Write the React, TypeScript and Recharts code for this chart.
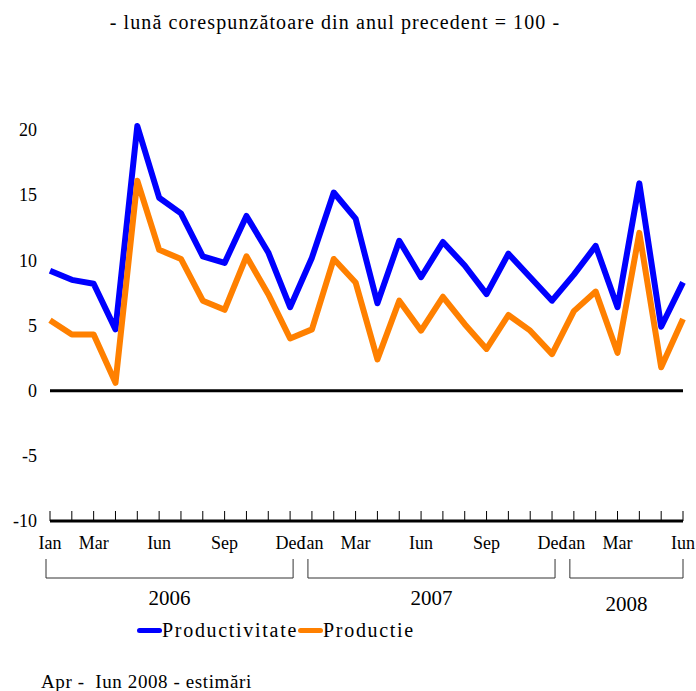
import React from 'react';
import { LineChart, Line, XAxis, YAxis, ReferenceLine, Legend } from 'recharts';

const months = [
  'Ian06', 'Feb06', 'Mar06', 'Apr06', 'Mai06', 'Iun06', 'Iul06', 'Aug06', 'Sep06', 'Oct06', 'Noi06', 'Dec06',
  'Ian07', 'Feb07', 'Mar07', 'Apr07', 'Mai07', 'Iun07', 'Iul07', 'Aug07', 'Sep07', 'Oct07', 'Noi07', 'Dec07',
  'Ian08', 'Feb08', 'Mar08', 'Apr08', 'Mai08', 'Iun08',
];

const tickLabels = [
  'Ian', '', 'Mar', '', '', 'Iun', '', '', 'Sep', '', '', 'Dec',
  'Ian', '', 'Mar', '', '', 'Iun', '', '', 'Sep', '', '', 'Dec',
  'Ian', '', 'Mar', '', '', 'Iun',
];

const productivitate = [
  9.2, 8.5, 8.2, 4.7, 20.3, 14.8, 13.6, 10.3, 9.8, 13.4, 10.6, 6.4,
  10.2, 15.2, 13.2, 6.7, 11.5, 8.7, 11.4, 9.6, 7.4, 10.5, 8.7, 6.9,
  8.9, 11.1, 6.4, 15.9, 4.9, 8.3,
];

const productie = [
  5.4, 4.3, 4.3, 0.6, 16.1, 10.8, 10.1, 6.9, 6.2, 10.3, 7.4, 4.0,
  4.7, 10.1, 8.3, 2.4, 6.9, 4.6, 7.2, 5.1, 3.2, 5.8, 4.6, 2.8,
  6.1, 7.6, 2.9, 12.1, 1.8, 5.5,
];

// year groups: first month index, number of months
const years = [
  { label: '2006', start: 0, count: 12 },
  { label: '2007', start: 12, count: 12 },
  { label: '2008', start: 24, count: 6 },
];

const yTicks = [-10, -5, 0, 5, 10, 15, 20];

const data = months.map((m, i) => ({
  name: m,
  productivitate: productivitate[i],
  productie: productie[i],
}));

const FONT = '"Liberation Serif", "Times New Roman", serif';

const MonthTick = (props: any) => {
  const { x, y, index, width, visibleTicksCount } = props;
  const step = visibleTicksCount > 1 ? width / (visibleTicksCount - 1) : 21.8;
  const year = years.find(g => g.start === index);
  let bracket = null;
  if (year) {
    const isLast = year.start + year.count === months.length;
    const x0 = x - 4;
    const x1 = x + (year.count - 1) * step + (isLast ? 0 : 3);
    const yTop = y + 38;
    const yBot = y + 57;
    bracket = (
      <g>
        <path d={`M${x0},${yTop} L${x0},${yBot} L${x1},${yBot} L${x1},${yTop}`} stroke="#333" strokeWidth={1} fill="none" />
        <text x={(x0 + x1) / 2} y={y + (isLast ? 90 : 84)} textAnchor="middle" fontSize={21} fontFamily={FONT} fill="#000">
          {year.label}
        </text>
      </g>
    );
  }
  return (
    <g>
      <line x1={x} y1={y} x2={x} y2={y - 10} stroke="#000" strokeWidth={1} />
      {tickLabels[index] && (
        <text x={x} y={y + 28} textAnchor="middle" fontSize={18} fontFamily={FONT} fill="#000">
          {tickLabels[index]}
        </text>
      )}
      {bracket}
    </g>
  );
};

const LegendContent = () => (
  <div style={{ display: 'flex', alignItems: 'center', height: 26, fontFamily: FONT, fontSize: 20, letterSpacing: 1.7 }}>
    <span style={{ display: 'inline-block', width: 25, height: 5, borderRadius: 3, background: '#0000ff' }} />
    <span>Productivitate</span>
    <span style={{ display: 'inline-block', width: 25, height: 5, borderRadius: 3, background: '#ff8000' }} />
    <span>Productie</span>
  </div>
);

export default function App() {
  return (
    <div style={{ position: 'absolute', left: 0, top: 0, width: 696, height: 691, background: '#fff' }}>
      <div style={{ position: 'absolute', top: 11, left: 0, width: 670, textAlign: 'center', fontFamily: FONT, fontSize: 20, letterSpacing: 1.1 }}>
        - lună corespunzătoare din anul precedent = 100 -
      </div>
      <LineChart width={696} height={691} data={data} margin={{ top: 126, right: 13, left: 0, bottom: 44 }}>
        <XAxis
          dataKey="name"
          interval={0}
          tickSize={0}
          tickMargin={0}
          height={100}
          axisLine={{ stroke: '#000', strokeWidth: 3 }}
          tickLine={false}
          tick={<MonthTick />}
        />
        <YAxis
          domain={[-10, 20]}
          ticks={yTicks}
          width={50}
          axisLine={false}
          tickLine={false}
          tickSize={0}
          tickMargin={13}
          tick={{ fontSize: 18, fontFamily: FONT, fill: '#000' }}
        />
        <ReferenceLine y={0} stroke="#000" strokeWidth={3} />
        <Legend
          verticalAlign="bottom"
          content={<LegendContent />}
          wrapperStyle={{ top: 617, left: 137, width: 'auto', height: 26 }}
        />
        <Line type="linear" dataKey="productivitate" name="Productivitate" stroke="#0000ff" strokeWidth={6} dot={false} strokeLinejoin="round" isAnimationActive={false} />
        <Line type="linear" dataKey="productie" name="Productie" stroke="#ff8000" strokeWidth={6} dot={false} strokeLinejoin="round" isAnimationActive={false} />
      </LineChart>
      <div style={{ position: 'absolute', top: 671, left: 41, fontFamily: FONT, fontSize: 19, letterSpacing: 0.6, whiteSpace: 'pre' }}>
        Apr -  Iun 2008 - estimări
      </div>
    </div>
  );
}
